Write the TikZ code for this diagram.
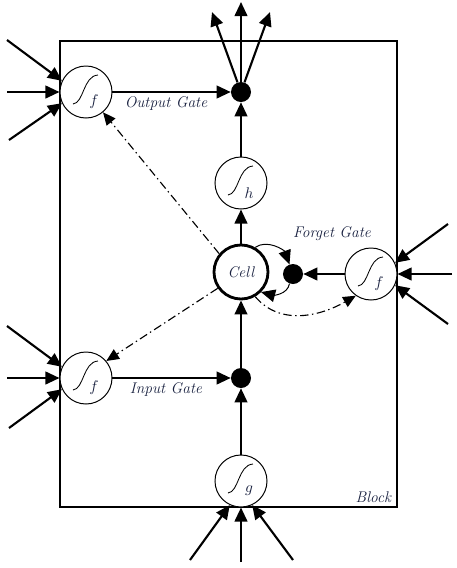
\documentclass[tikz,border=0pt]{standalone}
\usepackage{tikz}
\usetikzlibrary{arrows.meta, positioning, calc}
\definecolor{labelblue}{rgb}{0.1,0.13,0.25}

\tikzset{
  tip/.style={-{Triangle[length=10pt,width=9pt]}},
  arr/.style={line width=1.5pt, tip},
  dashdot/.style={line width=0.8pt, dash pattern=on 6pt off 2.5pt on 1pt off 2.5pt, -{Triangle[length=9pt,width=8pt]}},
  dot/.style={circle, fill=black, minimum size=0.5cm, inner sep=0pt},
  lbl/.style={text=labelblue, font=\fontsize{11}{13}\selectfont\itshape},
  sigm/.style={circle, draw, fill=white, line width=0.7pt, minimum size=1.3cm, inner sep=0pt,
    path picture={
      \draw[line width=0.6pt, shift={(path picture bounding box.center)}]
        (-13,12) .. controls (-2,11) and (-3,-16) .. (12,-17);
      \node[text=labelblue, font=\fontsize{11}{13}\selectfont] at ($(path picture bounding box.center)+(8,10)$) {$#1$};
    }}
}

\begin{document}
\begin{tikzpicture}[x=0.025cm, y=-0.025cm]
  \useasboundingbox (0,0) rectangle (456,568);
  % Block
  \draw[line width=1.5pt] (60,41) rectangle (397,507);
  \node[lbl, anchor=south east] (block) at (396,508) {Block};

  % gates and cell
  \node[sigm=f] (outf) at (86,92) {};
  \node[dot] (odot) at (241,92) {};
  \node[sigm=h] (hcell) at (241,183) {};
  \node[circle, draw, line width=2pt, fill=white, minimum size=1.35cm, inner sep=0pt, lbl] (cell) at (241,272) {Cell};
  \node[dot] (fdot) at (293,274) {};
  \node[sigm=f] (forf) at (371,274) {};
  \node[sigm=f] (inf) at (86,378) {};
  \node[dot] (idot) at (241,378) {};
  \node[sigm=g] (gin) at (241,481) {};

  \node[lbl] (outlbl) at (166,104) {Output Gate};
  \node[lbl] (forlbl) at (332,234) {Forget Gate};
  \node[lbl] (inlbl) at (166,390) {Input Gate};

  % outer inputs and outputs
  \coordinate (o1) at (212,12);
  \coordinate (o2) at (241,2);
  \coordinate (o3) at (270,12);
  \coordinate (a1) at (7,40);  \coordinate (a2) at (7,92);  \coordinate (a3) at (9,140);
  \coordinate (b1) at (7,326); \coordinate (b2) at (7,378); \coordinate (b3) at (9,428);
  \coordinate (c1) at (448,224); \coordinate (c2) at (452,274); \coordinate (c3) at (448,324);
  \coordinate (d1) at (190,560); \coordinate (d2) at (241,562); \coordinate (d3) at (293,560);

  \foreach \t in {o1,o2,o3} \draw[arr] (odot) -- (\t);
  \draw[arr] (a1) -- (outf.155);
  \draw[arr] (a2) -- (outf.west);
  \draw[arr] (a3) -- (outf.205);
  \draw[arr] (b1) -- (inf.155);
  \draw[arr] (b2) -- (inf.west);
  \draw[arr] (b3) -- (inf.205);
  \draw[arr] (c1) -- (forf.25);
  \draw[arr] (c2) -- (forf.east);
  \draw[arr] (c3) -- (forf.-25);
  \draw[arr] (d1) -- (gin.-115);
  \draw[arr] (d2) -- (gin.south);
  \draw[arr] (d3) -- (gin.-65);

  % main flow
  \draw[arr] (outf) -- (odot);
  \draw[arr] (hcell) -- (odot);
  \draw[arr] (cell) -- (hcell);
  \draw[arr] (idot) -- (cell);
  \draw[arr] (inf) -- (idot);
  \draw[arr] (gin) -- (idot);
  \draw[arr] (forf) -- (fdot);

  % self loop
  \draw[line width=0.7pt, tip] (cell.60) to[out=35, in=110] (fdot.110);
  \draw[line width=0.7pt, tip] (fdot.250) to[out=-100, in=-15] (cell.-45);

  % peepholes
  \draw[dashdot] (cell.140) -- (outf.-50);
  \draw[dashdot] (cell.215) -- (inf.40);
  \draw[dashdot] (cell.-60) to[out=-50, in=210] (forf.235);
\end{tikzpicture}
\end{document}
